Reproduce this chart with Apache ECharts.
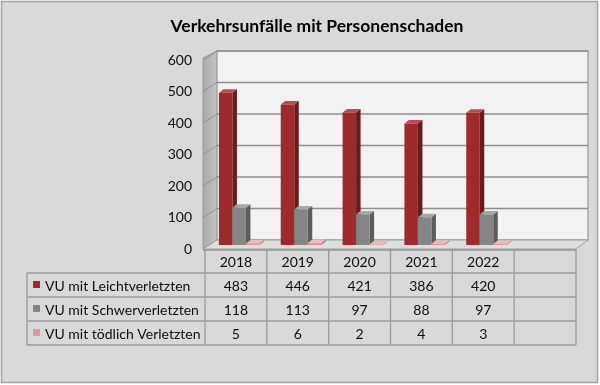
<!DOCTYPE html>
<html><head><meta charset="utf-8">
<script src="https://cdn.jsdelivr.net/npm/echarts@6/dist/echarts.min.js"></script>
<style>html,body{margin:0;padding:0;background:#fff}#c{width:600px;height:385px}</style>
</head><body><div id="c"></div>
<script>
const title = 'Verkehrsunfälle mit Personenschaden';
const categories = ['2018','2019','2020','2021','2022',''];
const leicht = [483,446,421,386,420];
const schwer = [118,113,97,88,97];
const toedlich = [5,6,2,4,3];
const seriesNames = ['VU mit Leichtverletzten','VU mit Schwerverletzten','VU mit tödlich Verletzten'];
const yTicks = [0,100,200,300,400,500,600];

const FONT = 'Lato';
const TXT = '#0d0d0d';
const seriesData = [leicht, schwer, toedlich];
const pal = [
  {front:'#9e2a2d', side:'#6b1a1c', top:'#bd4a4c'},
  {front:'#858585', side:'#5c5c5c', top:'#a6a6a6'},
  {front:'#d99a9b', side:'#b47576', top:'#ebbcbd'}
];
const DX = 12, DY = -9;      // back wall depth offset
const BDX = 4.5, BDY = -3.5; // bar depth
const BSH = -4;              // bar vertical shift (bar depth plane)
const rowY = [250, 273, 297, 321, 345];
const tableLeft = 27;

function barRender(si){
  return function(params, api){
    const idx = api.value(0), v = api.value(1);
    const top = api.coord([idx, v]), base = api.coord([idx, 0]);
    const bw = 13.5;
    const x0 = top[0] - 17 + si*bw, x1 = x0 + bw;
    const yT = top[1] + BSH, yB = base[1] + BSH;
    const c = pal[si];
    return {type:'group', children:[
      {type:'polygon', shape:{points:[[x1,yB],[x1+BDX,yB+BDY],[x1+BDX,yT+BDY],[x1,yT]]}, style:{fill:c.side}},
      {type:'polygon', shape:{points:[[x0,yT],[x0+BDX,yT+BDY],[x1+BDX,yT+BDY],[x1,yT]]}, style:{fill:c.top}},
      {type:'rect', shape:{x:x0,y:yT,width:bw,height:Math.max(yB-yT,0.5)}, style:{fill:c.front}}
    ]};
  };
}

function wallRender(params, api){
  const cs = params.coordSys;
  const x = cs.x, y = cs.y, w = cs.width, h = cs.height, yb = y + h;
  const ch = [];
  ch.push({type:'polygon', shape:{points:[[x-2,y-2],[x+DX,y+DY],[x+DX,yb+DY],[x-2,yb]]},
    style:{fill:{type:'linear',x:0,y:0,x2:1,y2:0,colorStops:[{offset:0,color:'#a9a9a9'},{offset:1,color:'#c4c4c4'}]}, stroke:'#9a9a9a', lineWidth:1}});
  ch.push({type:'rect', shape:{x:x+DX,y:y+DY,width:w,height:h}, style:{fill:'#f2f2f2', stroke:'#a6a6a6', lineWidth:1.5}});
  yTicks.forEach(function(v){
    if (v === 0) return;
    const yy = api.coord([0, v])[1];
    ch.push({type:'line', shape:{x1:x+DX,y1:yy+DY,x2:x+w+DX,y2:yy+DY}, style:{stroke:'#8f8f8f', lineWidth:1.5}});
    ch.push({type:'line', shape:{x1:x-2,y1:yy,x2:x+DX,y2:yy+DY}, style:{stroke:'#8f8f8f', lineWidth:1}});
  });
  ch.push({type:'polygon', shape:{points:[[x-2,yb],[x+DX,yb+DY],[x+w+DX,yb+DY],[x+w,yb]]}, style:{fill:'#dedede', stroke:'#9a9a9a', lineWidth:1}});
  ch.push({type:'rect', shape:{x:x-2,y:yb,width:w+2,height:2}, style:{fill:'#a0a0a0'}});
  seriesNames.forEach(function(n, i){
    const cy = (rowY[i+1] + rowY[i+2]) / 2;
    ch.push({type:'rect', shape:{x:tableLeft+6,y:cy-4,width:7,height:7}, style:{fill:pal[i].front}});
    ch.push({type:'text', style:{text:n, x:tableLeft+18, y:cy+1, fontFamily:FONT, fontSize:14, fill:TXT, verticalAlign:'middle', align:'left'}});
  });
  for (let r = 1; r < rowY.length; r++) {
    ch.push({type:'line', shape:{x1:tableLeft,y1:rowY[r],x2:x+w,y2:rowY[r]}, style:{stroke:'#9a9a9a', lineWidth:1.3}});
  }
  ch.push({type:'line', shape:{x1:tableLeft,y1:rowY[1],x2:tableLeft,y2:rowY[4]}, style:{stroke:'#9a9a9a', lineWidth:1.3}});
  return {type:'group', children:ch};
}

function tableRender(params, api){
  const idx = api.value(0);
  const c = api.coord([idx, 0]);
  const bw = api.size([1, 0])[0];
  const xl = c[0] - bw/2, xr = c[0] + bw/2;
  const ch = [];
  ch.push({type:'line', shape:{x1:xl,y1:rowY[0],x2:xl,y2:rowY[4]}, style:{stroke:'#9a9a9a', lineWidth:1.3}});
  if (idx === categories.length - 1) {
    ch.push({type:'line', shape:{x1:xr,y1:rowY[0],x2:xr,y2:rowY[4]}, style:{stroke:'#9a9a9a', lineWidth:1.3}});
  }
  const t = (s, r) => ({type:'text', style:{text:String(s), x:c[0], y:(rowY[r]+rowY[r+1])/2+1, fontFamily:FONT, fontSize:14, fill:TXT, align:'center', verticalAlign:'middle'}});
  if (categories[idx]) ch.push(t(categories[idx], 0));
  seriesData.forEach(function(d, si){ if (d[idx] !== undefined) ch.push(t(d[idx], si+1)); });
  return {type:'group', children:ch};
}

const chart = echarts.init(document.getElementById('c'), null, {renderer:'canvas'});
chart.setOption({
  animation:false,
  backgroundColor:'#fff',
  graphic:[{type:'rect', shape:{x:1.5,y:1.5,width:596,height:381}, style:{fill:'#d9d9d9', stroke:'#a3a3a3', lineWidth:1.5}, z:-10}],
  title:{text:title, left:312, top:12, textAlign:'center', textStyle:{fontFamily:FONT, fontWeight:'bold', fontSize:17.5, color:'#000'}},
  grid:{left:205, right:24, top:60, bottom:136},
  xAxis:{type:'category', data:categories, axisLine:{show:false}, axisTick:{show:false}, axisLabel:{show:false}},
  yAxis:{type:'value', min:0, max:600, interval:100, axisLine:{show:false}, axisTick:{show:false}, splitLine:{show:false},
    axisLabel:{margin:13, fontFamily:FONT, fontSize:14, color:TXT}},
  series:[
    {type:'custom', name:'walls', renderItem:wallRender, data:[[0]], z:1, silent:true},
    {type:'custom', name:'table', renderItem:tableRender, data:categories.map((c,i)=>[i]), z:1, silent:true},
    {type:'custom', name:seriesNames[0], renderItem:barRender(0), data:leicht.map((v,i)=>[i,v]), z:3},
    {type:'custom', name:seriesNames[1], renderItem:barRender(1), data:schwer.map((v,i)=>[i,v]), z:4},
    {type:'custom', name:seriesNames[2], renderItem:barRender(2), data:toedlich.map((v,i)=>[i,v]), z:5}
  ]
});
</script></body></html>
